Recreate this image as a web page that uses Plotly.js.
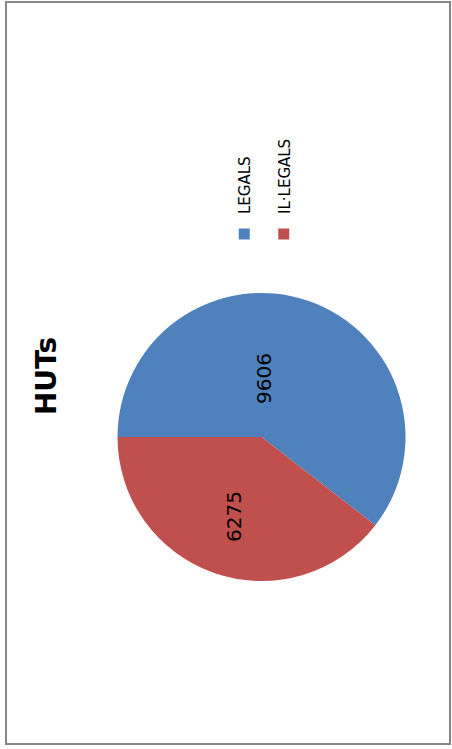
<!DOCTYPE html>
<html>
<head>
<meta charset="utf-8">
<script src="https://cdn.plot.ly/plotly-3.0.1.min.js"></script>
<style>
  html, body { margin: 0; padding: 0; width: 452px; height: 749px; overflow: hidden; background: #fff; }
  #chart { position: absolute; left: 0; top: 0; width: 749px; height: 452px;
           transform-origin: 0 0; transform: translateY(749px) rotate(-90deg); }
</style>
</head>
<body>
<div id="chart"></div>
<script>
const categories = ['LEGALS', 'IL·LEGALS'];
const values = [9606, 6275];
const colors = ['#4F81BD', '#C0504D'];
const chartTitle = 'HUTs';

const W = 749, H = 452;
const font = 'DejaVu Sans, Verdana, sans-serif';

// label anchor points inside each slice (paper fractions)
const labelPos = [[370 / W, 1 - 264 / H], [232 / W, 1 - 234 / H]];

const pie = {
  type: 'pie',
  labels: categories,
  values: values,
  sort: false,
  direction: 'clockwise',
  rotation: 0,
  marker: { colors: colors, line: { width: 0 } },
  textinfo: 'none',
  domain: { x: [168 / W, 456 / W], y: [1 - 405.5 / H, 1 - 117.5 / H] },
  showlegend: false,
  hoverinfo: 'label+value+percent'
};

// legend entries (one per category) drawn by the library's legend
const legendTraces = categories.map((c, i) => ({
  type: 'scatter', mode: 'markers', x: [null], y: [null],
  name: c, legendgroup: 'g' + i,
  marker: { symbol: 'square', size: 11, color: colors[i] },
  hoverinfo: 'skip'
}));

const annotations = values.map((v, i) => ({
  xref: 'paper', yref: 'paper', x: labelPos[i][0], y: labelPos[i][1],
  xanchor: 'center', yanchor: 'middle', showarrow: false,
  text: String(v), font: { family: font, size: 20, color: '#000' }
}));

const layout = {
  width: W, height: H,
  margin: { l: 0, r: 0, t: 0, b: 0 },
  paper_bgcolor: '#fff', plot_bgcolor: 'rgba(0,0,0,0)',
  title: { text: '<b>' + chartTitle + '</b>', font: { family: font, size: 28, color: '#000' },
           x: 373 / W, xanchor: 'center', xref: 'paper', y: 1 - 46 / H, yanchor: 'middle', yref: 'container' },
  xaxis: { visible: false }, yaxis: { visible: false },
  showlegend: true,
  legend: { x: 495 / W, xanchor: 'left', y: 1 - 228 / H, yanchor: 'top',
            traceorder: 'grouped', tracegroupgap: 17, bgcolor: 'rgba(0,0,0,0)',
            font: { family: font, size: 15, color: '#000' } },
  annotations: annotations,
  shapes: [{ type: 'rect', xref: 'paper', yref: 'paper', x0: 5 / W, x1: 747 / W, y0: 1 - 450 / H, y1: 1 - 6 / H,
             line: { color: '#868686', width: 2 }, fillcolor: 'rgba(0,0,0,0)' }]
};

Plotly.newPlot('chart', [pie].concat(legendTraces), layout, { displayModeBar: false, staticPlot: true });
</script>
</body>
</html>
